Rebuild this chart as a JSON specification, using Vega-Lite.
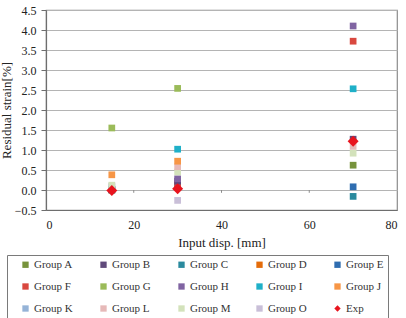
{
  "$schema": "https://vega.github.io/schema/vega-lite/v6.json",
  "width": 351,
  "height": 200,
  "autosize": {"type": "none"},
  "padding": {"left": 46, "top": 10, "right": 9, "bottom": 108},
  "background": "white",
  "config": {
    "font": "Times New Roman",
    "view": {"stroke": "#8c8c8c", "strokeWidth": 1.2},
    "axis": {
      "labelFont": "Times New Roman",
      "titleFont": "Times New Roman",
      "labelFontSize": 12,
      "titleFontSize": 13,
      "titleFontWeight": "normal",
      "labelColor": "#222",
      "titleColor": "#222"
    },
    "legend": {
      "labelFont": "Times New Roman",
      "labelFontSize": 11,
      "labelColor": "#333"
    }
  },
  "datasets": {
    "strain": [
      {"disp": 15, "group": "Group A", "strain": 0.0},
      {"disp": 15, "group": "Group B", "strain": 0.01},
      {"disp": 15, "group": "Group C", "strain": 0.0},
      {"disp": 15, "group": "Group E", "strain": 0.02},
      {"disp": 15, "group": "Group K", "strain": 0.08},
      {"disp": 15, "group": "Group O", "strain": 0.1},
      {"disp": 15, "group": "Group M", "strain": 0.12},
      {"disp": 15, "group": "Group J", "strain": 0.38},
      {"disp": 15, "group": "Group G", "strain": 1.55},
      {"disp": 30, "group": "Group O", "strain": -0.26},
      {"disp": 30, "group": "Group E", "strain": 0.12},
      {"disp": 30, "group": "Group F", "strain": 0.15},
      {"disp": 30, "group": "Group B", "strain": 0.22},
      {"disp": 30, "group": "Group H", "strain": 0.28},
      {"disp": 30, "group": "Group M", "strain": 0.45},
      {"disp": 30, "group": "Group L", "strain": 0.58},
      {"disp": 30, "group": "Group J", "strain": 0.72},
      {"disp": 30, "group": "Group I", "strain": 1.02},
      {"disp": 30, "group": "Group G", "strain": 2.54},
      {"disp": 70, "group": "Group C", "strain": -0.16},
      {"disp": 70, "group": "Group E", "strain": 0.08},
      {"disp": 70, "group": "Group A", "strain": 0.62},
      {"disp": 70, "group": "Group M", "strain": 0.92},
      {"disp": 70, "group": "Group L", "strain": 1.09},
      {"disp": 70, "group": "Group B", "strain": 1.27},
      {"disp": 70, "group": "Group I", "strain": 2.53},
      {"disp": 70, "group": "Group F", "strain": 3.72},
      {"disp": 70, "group": "Group H", "strain": 4.1}
    ],
    "exp": [
      {"disp": 15, "group": "Exp", "strain": -0.01},
      {"disp": 30, "group": "Exp", "strain": 0.03},
      {"disp": 70, "group": "Exp", "strain": 1.22}
    ],
    "zeroTicks": [
      {"disp": 20, "strain": 0, "strainEnd": -0.07},
      {"disp": 40, "strain": 0, "strainEnd": -0.07},
      {"disp": 60, "strain": 0, "strainEnd": -0.07}
    ]
  },
  "encoding": {
    "x": {
      "field": "disp",
      "type": "quantitative",
      "scale": {"domain": [0, 80], "nice": false},
      "axis": {
        "title": "Input disp. [mm]",
        "values": [0, 20, 40, 60, 80],
        "grid": false,
        "domain": true,
        "domainColor": "#6e6e6e",
        "domainWidth": 1.2,
        "ticks": false,
        "labelOverlap": false,
        "labelPadding": 9,
        "titlePadding": 6
      }
    },
    "y": {
      "field": "strain",
      "type": "quantitative",
      "scale": {"domain": [-0.5, 4.5], "nice": false, "zero": false},
      "axis": {
        "title": "Residual strain[%]",
        "values": [-0.5, 0, 0.5, 1, 1.5, 2, 2.5, 3, 3.5, 4, 4.5],
        "format": ".1f",
        "labelOverlap": false,
        "grid": true,
        "gridColor": "#b4b4b4",
        "gridWidth": 1.2,
        "domain": true,
        "domainColor": "#6e6e6e",
        "domainWidth": 1.2,
        "tickColor": "#6e6e6e",
        "tickSize": 5,
        "labelPadding": 5,
        "titlePadding": 1
      }
    }
  },
  "layer": [
    {
      "data": {"name": "zeroTicks"},
      "mark": {"type": "rule", "color": "#8c8c8c", "strokeWidth": 1},
      "encoding": {
        "y2": {"field": "strainEnd"}
      }
    },
    {
      "data": {"name": "strain"},
      "mark": {"type": "point", "filled": true, "size": 45, "opacity": 1},
      "encoding": {
        "color": {
          "field": "group",
          "type": "nominal",
          "scale": {
            "domain": ["Group A", "Group B", "Group C", "Group D", "Group E", "Group F", "Group G", "Group H", "Group I", "Group J", "Group K", "Group L", "Group M", "Group O", "Exp"],
            "range": ["#77933C", "#604A7B", "#2A8A9E", "#E46C0A", "#2F6DB0", "#D9483F", "#9BBB59", "#8064A2", "#1FB0C8", "#F79646", "#95B3D7", "#E6B9B8", "#D3E2BB", "#C9BFD8", "#E8141E"]
          },
          "legend": {
            "title": null,
            "orient": "none",
            "legendX": -39,
            "legendY": 245,
            "direction": "horizontal",
            "columns": 5,
            "gridAlign": "all",
            "columnPadding": 14,
            "rowPadding": 10,
            "padding": 4,
            "symbolOffset": 9,
            "symbolSize": 40,
            "symbolType": "square",
            "labelOffset": 3,
            "strokeColor": "#7a7a7a",
            "fillColor": "white"
          }
        },
        "shape": {
          "field": "group",
          "type": "nominal",
          "scale": {
            "domain": ["Group A", "Group B", "Group C", "Group D", "Group E", "Group F", "Group G", "Group H", "Group I", "Group J", "Group K", "Group L", "Group M", "Group O", "Exp"],
            "range": ["square", "square", "square", "square", "square", "square", "square", "square", "square", "square", "square", "square", "square", "square", "diamond"]
          }
        }
      }
    },
    {
      "data": {"name": "exp"},
      "mark": {"type": "point", "filled": true, "size": 120, "opacity": 1},
      "encoding": {
        "color": {"field": "group", "type": "nominal"},
        "shape": {"field": "group", "type": "nominal"}
      }
    }
  ]
}
